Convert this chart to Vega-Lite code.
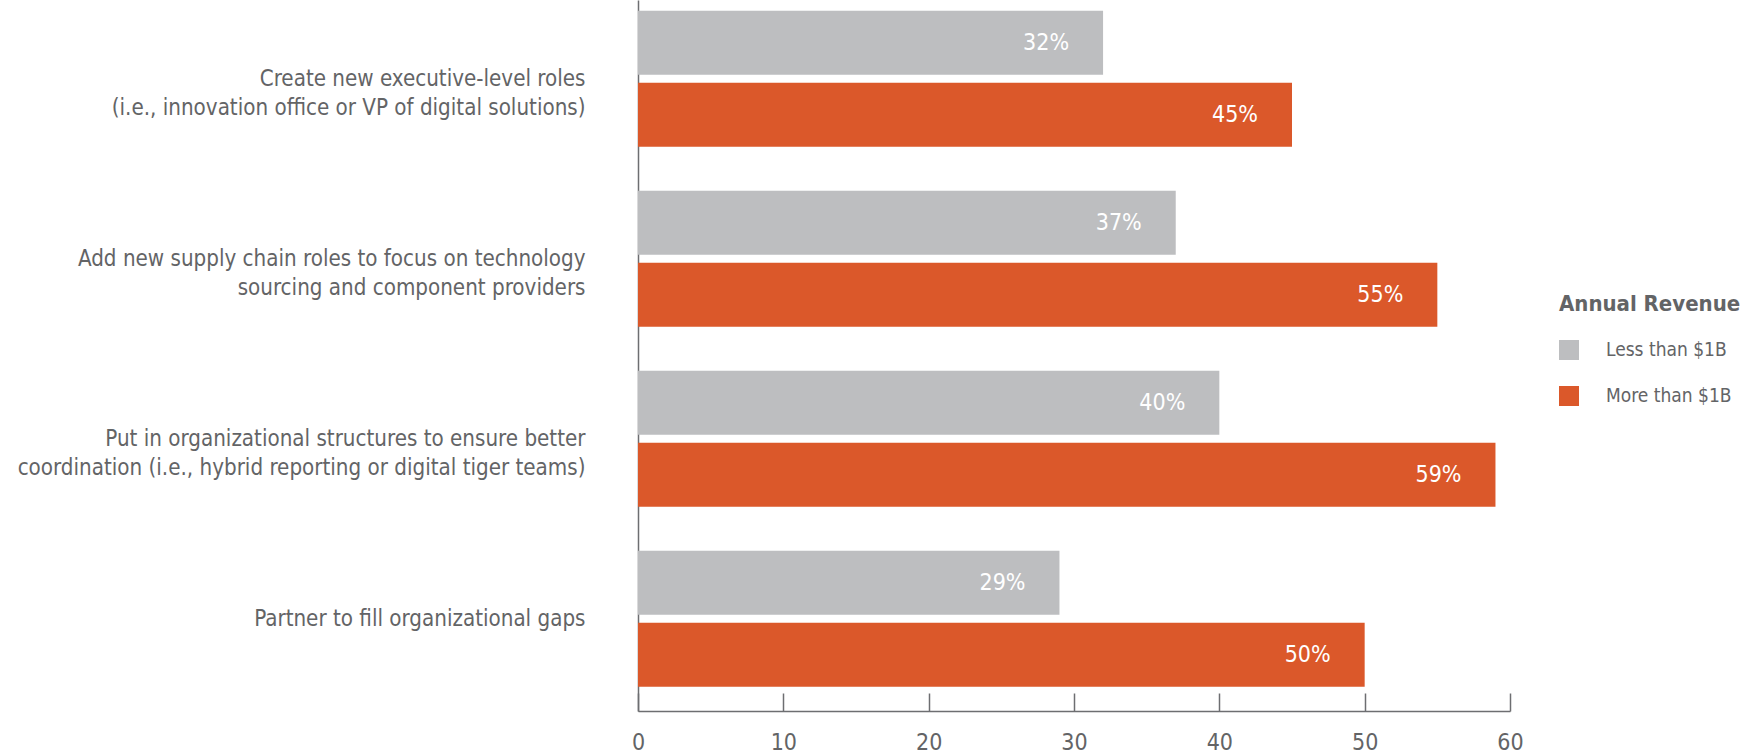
{
  "$schema": "https://vega.github.io/schema/vega-lite/v6.json",
  "width": 872,
  "height": 711,
  "autosize": {"type": "none"},
  "padding": {"left": 638, "top": 0, "right": 246, "bottom": 44},
  "background": "white",
  "config": {
    "view": {"stroke": null},
    "font": "DejaVu Sans Condensed, Roboto"
  },
  "data": {
    "values": [
      {"action": "Create new executive-level roles|(i.e., innovation office or VP of digital solutions)", "group": "Less than $1B", "value": 32},
      {"action": "Create new executive-level roles|(i.e., innovation office or VP of digital solutions)", "group": "More than $1B", "value": 45},
      {"action": "Add new supply chain roles to focus on technology|sourcing and component providers", "group": "Less than $1B", "value": 37},
      {"action": "Add new supply chain roles to focus on technology|sourcing and component providers", "group": "More than $1B", "value": 55},
      {"action": "Put in organizational structures to ensure better|coordination (i.e., hybrid reporting or digital tiger teams)", "group": "Less than $1B", "value": 40},
      {"action": "Put in organizational structures to ensure better|coordination (i.e., hybrid reporting or digital tiger teams)", "group": "More than $1B", "value": 59},
      {"action": "Partner to fill organizational gaps", "group": "Less than $1B", "value": 29},
      {"action": "Partner to fill organizational gaps", "group": "More than $1B", "value": 50}
    ]
  },
  "transform": [{"calculate": "datum.value + '%'", "as": "label"}],
  "encoding": {
    "y": {
      "field": "action",
      "type": "nominal",
      "sort": null,
      "scale": {"paddingInner": 0.2444, "paddingOuter": 0.0972, "align": 0.31},
      "axis": {
        "title": null,
        "ticks": false,
        "labelPadding": 53,
        "labelExpr": "split(datum.label, '|')",
        "labelFontSize": 22.2,
        "labelLineHeight": 29,
        "labelColor": "#636466",
        "labelLimit": 700,
        "domainColor": "#6d6e71",
        "domainWidth": 1.5,
        "zindex": 0
      }
    },
    "yOffset": {
      "field": "group",
      "type": "nominal",
      "sort": ["Less than $1B", "More than $1B"],
      "scale": {"paddingInner": 0.111, "paddingOuter": 0}
    },
    "x": {
      "field": "value",
      "type": "quantitative",
      "scale": {"domain": [0, 60], "nice": false},
      "axis": {
        "title": null,
        "values": [0, 10, 20, 30, 40, 50, 60],
        "grid": false,
        "tickSize": -18,
        "tickColor": "#6d6e71",
        "tickWidth": 1.5,
        "domainColor": "#6d6e71",
        "domainWidth": 1.5,
        "labelPadding": 38,
        "labelFlush": false,
        "labelFontSize": 23,
        "labelColor": "#636466"
      }
    }
  },
  "layer": [
    {
      "mark": {"type": "bar"},
      "encoding": {
        "color": {
          "field": "group",
          "type": "nominal",
          "scale": {"domain": ["Less than $1B", "More than $1B"], "range": ["#bdbec0", "#db582a"]},
          "legend": {
            "title": "Annual Revenue",
            "orient": "none",
            "legendX": 921,
            "legendY": 294,
            "titleFontSize": 22,
            "titleFontWeight": "bold",
            "titleColor": "#636466",
            "titleLimit": 400,
            "titlePadding": 24,
            "labelFontSize": 19,
            "labelLimit": 300,
            "labelColor": "#636466",
            "labelOffset": 27,
            "symbolType": "square",
            "symbolSize": 400,
            "symbolStrokeWidth": 0,
            "rowPadding": 26
          }
        }
      }
    },
    {
      "mark": {"type": "text", "align": "right", "baseline": "middle", "dx": -34, "color": "white", "fontSize": 23},
      "encoding": {"text": {"field": "label"}}
    }
  ]
}
